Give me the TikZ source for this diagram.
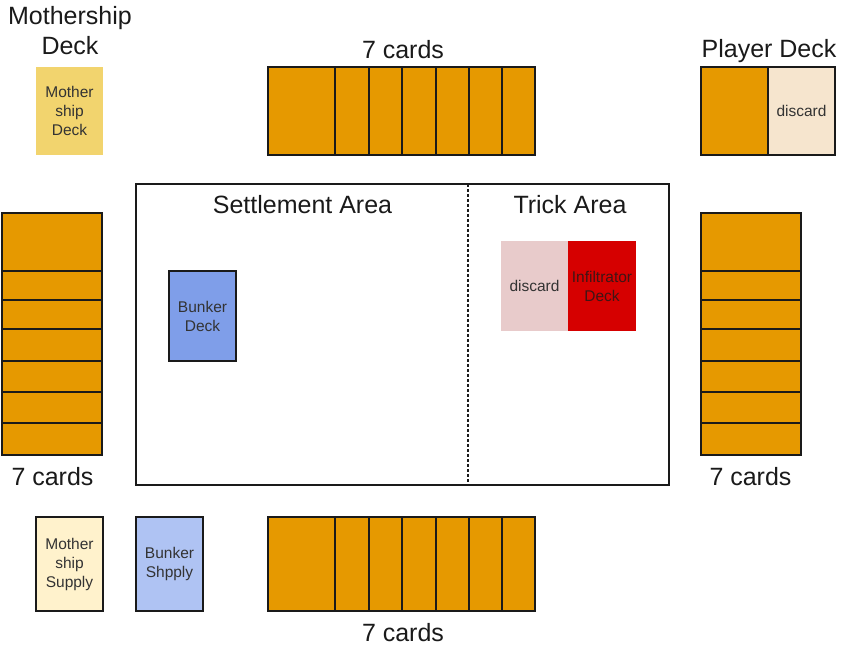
\documentclass[tikz,border=0pt]{standalone}
\usepackage{fontspec}
\setmainfont{Liberation Sans}
\definecolor{cardorange}{HTML}{E69900}
\definecolor{msdeck}{HTML}{F2D46E}
\definecolor{mssupply}{HTML}{FFF2CC}
\definecolor{bunkerdeck}{HTML}{7F9EE9}
\definecolor{bunkersupply}{HTML}{AFC3F3}
\definecolor{pdiscard}{HTML}{F6E5CE}
\definecolor{tdiscard}{HTML}{E8CBCB}
\definecolor{infil}{HTML}{D60000}
\definecolor{ink}{HTML}{1A1A1A}
\definecolor{cardtext}{HTML}{333333}
\tikzset{
  title/.style={font=\fontsize{25}{30}\selectfont, text=ink, inner sep=0pt, align=center},
  box/.style={anchor=north west, inner sep=0pt, outer sep=0pt,
     font=\fontsize{15.5}{19}\selectfont, text=cardtext, align=center},
  bordered/.style={box, draw=ink, line width=1.5pt},
  orangecard/.style={bordered, fill=cardorange},
}
\begin{document}
\begin{tikzpicture}[x=1pt,y=-1pt]
\useasboundingbox (0,0) rectangle (845,646);

% titles
\node[title, anchor=north] (msTitle) at (70,6.5) {Mothership\\Deck};
\node[title, anchor=base] (topLbl) at (403,58) {7 cards};
\node[title, anchor=base] (pdTitle) at (769,57) {Player Deck};
\node[title, anchor=base] (leftLbl) at (52.5,485) {7 cards};
\node[title, anchor=base] (rightLbl) at (750.5,485) {7 cards};
\node[title, anchor=base] (botLbl) at (403,641) {7 cards};

% mothership deck
\node[box, fill=msdeck, minimum width=67pt, minimum height=88pt] (msDeck) at (36,67) {Mother\\ship\\Deck};

% top row of 7 cards
\node[orangecard, minimum width=67pt, minimum height=88pt] (t1) at (268,67) {};
\foreach \x/\w [count=\i from 2] in {335/34,369/33,402/34,436/33,469/33,502/33}
  \node[orangecard, minimum width=\w pt, minimum height=88pt] (t\i) at (\x,67) {};

% player deck
\node[orangecard, minimum width=67pt, minimum height=88pt] (pDeck) at (701,67) {};
\node[bordered, fill=pdiscard, minimum width=67pt, minimum height=88pt] (pDisc) at (768,67) {discard};

% left stack
\node[orangecard, minimum width=100pt, minimum height=58pt] (l1) at (2,213) {};
\foreach \y/\h [count=\i from 2] in {271/29,300/29,329/32,361/31,392/31,423/32}
  \node[orangecard, minimum width=100pt, minimum height=\h pt] (l\i) at (2,\y) {};

% right stack
\node[orangecard, minimum width=100pt, minimum height=58pt] (r1) at (701,213) {};
\foreach \y/\h [count=\i from 2] in {271/29,300/29,329/32,361/31,392/31,423/32}
  \node[orangecard, minimum width=100pt, minimum height=\h pt] (r\i) at (701,\y) {};

% board
\node[bordered, minimum width=533pt, minimum height=301pt] (board) at (136,184) {};
\coordinate (dTop) at (468,184);
\coordinate (dBot) at (468,485);
\draw[ink, line width=1.5pt, dash pattern=on 3pt off 2pt] (dTop) -- (dBot);
\node[title, anchor=base] (settle) at (302.5,213) {Settlement Area};
\node[title, anchor=base] (trick) at (570,213) {Trick Area};

\node[bordered, fill=bunkerdeck, minimum width=67pt, minimum height=90pt] (bDeck) at (169,271) {Bunker\\Deck};
\node[box, fill=tdiscard, minimum width=67pt, minimum height=90pt] (tDisc) at (501,241) {discard};
\node[box, fill=infil, text=ink!80!infil, minimum width=68pt, minimum height=90pt] (infDeck) at (568,241) {Infiltrator\\Deck};

% bottom row
\node[bordered, fill=mssupply, minimum width=67pt, minimum height=94pt] (msSup) at (36,517) {Mother\\ship\\Supply};
\node[bordered, fill=bunkersupply, minimum width=67pt, minimum height=94pt] (bSup) at (136,517) {Bunker\\Shpply};
\node[orangecard, minimum width=67pt, minimum height=94pt] (b1) at (268,517) {};
\foreach \x/\w [count=\i from 2] in {335/34,369/33,402/34,436/33,469/33,502/33}
  \node[orangecard, minimum width=\w pt, minimum height=94pt] (b\i) at (\x,517) {};
\end{tikzpicture}
\end{document}
